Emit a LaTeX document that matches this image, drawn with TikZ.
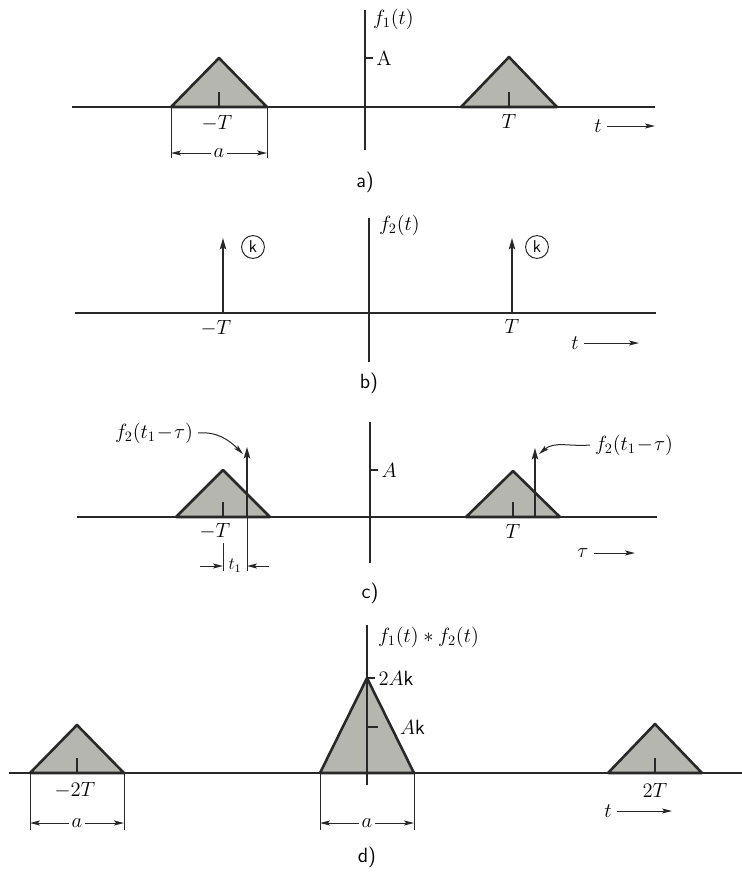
\documentclass[tikz,border=0pt]{standalone}
\usetikzlibrary{arrows.meta}
\begin{document}
\begin{tikzpicture}[x=0.7pt, y=0.7pt, font=\Large,
    achse/.style={draw=linie, line width=1pt},
    flaeche/.style={fill=grau, draw=linie, line width=1.8pt, line join=round},
    hilfslinie/.style={draw=linie, line width=0.6pt},
    puls/.style={draw=linie, line width=1.2pt,
      -{Stealth[length=8pt, width=4.5pt, inset=1.5pt]}},
    pfeil/.style={draw=linie, line width=0.7pt,
      -{Stealth[length=7pt, width=3.5pt, inset=1.5pt]}},
    kreis/.style={draw=linie, circle, line width=0.7pt, inner sep=1pt,
      minimum size=16pt, font=\large\sffamily},
    bildname/.style={font=\Large\sffamily},
  ]
  \definecolor{linie}{RGB}{40,40,40}
  \definecolor{grau}{RGB}{182,182,176}

  % Dreieckimpuls auf der Achse: \dreieck{Mitte}{halbe Breite}{Hoehe}
  \newcommand{\dreieck}[3]{%
    \draw[flaeche] (#1-#2,0) -- (#1,#3) -- (#1+#2,0) -- cycle;
    \draw[linie, line width=0.9pt] (#1,0) -- ++(0,15);}
  % Bemassung unter der Achse: \masz{x links}{x rechts}{y Pfeil}{y Ende}{Name}{Text}
  \newcommand{\masz}[6]{%
    \draw[hilfslinie] (#1,0) -- (#1,#4) (#2,0) -- (#2,#4);
    \coordinate (#5l) at (#1,#3);
    \coordinate (#5r) at (#2,#3);
    \node[inner sep=2pt] (#5) at ({(#1+#2)/2},#3) {#6};
    \draw[pfeil] (#5) -- (#5l);
    \draw[pfeil] (#5) -- (#5r);}

  \useasboundingbox (0,0) rectangle (742,-876);

  % ---------------- a) f1(t) -----------------------------------------
  \begin{scope}[shift={(365,-107)}]
    \dreieck{-146}{48}{49}
    \dreieck{144}{48}{50}
    \draw[achse] (-293,0) -- (290,0) (0,97) -- (0,-43);
    \draw[achse] (0,49) -- (8,49) node[right, inner sep=2pt] (hoeheA) {A};
    \node[anchor=west] (fEins) at (3,88) {$f_1(t)$};
    \node (mTa) at (-148,-16) {$-T$};
    \node (pTa) at (144,-14) {$T$};
    \masz{-194}{-98}{-46}{-51}{breiteA}{$a$}
    \node (ta) at (233,-19) {$t$};
    \coordinate (taEnde) at (290,-19);
    \draw[pfeil] (ta) -- (taEnde);
    \node[bildname] (bildA) at (0,-75) {a)};
  \end{scope}

  % ---------------- b) f2(t) -----------------------------------------
  \begin{scope}[shift={(369,-313)}]
    \draw[achse] (-294,0) -- (287,0) (0,95) -- (0,-49);
    \coordinate (fussL) at (-146,0);
    \coordinate (spitzeL) at (-146,75);
    \coordinate (fussR) at (143,0);
    \coordinate (spitzeR) at (143,75);
    \draw[puls] (fussL) -- (spitzeL);
    \draw[puls] (fussR) -- (spitzeR);
    \node[kreis] (kL) at (-116,66) {k};
    \node[kreis] (kR) at (168,66) {k};
    \node[anchor=west] (fZwei) at (5,88) {$f_2(t)$};
    \node (mTb) at (-153,-15) {$-T$};
    \node (pTb) at (143,-13) {$T$};
    \node (tb) at (206,-30) {$t$};
    \coordinate (tbEnde) at (270,-30);
    \draw[pfeil] (tb) -- (tbEnde);
    \node[bildname] (bildB) at (0,-70) {b)};
  \end{scope}

  % ---------------- c) f1(tau) und f2(t1-tau) ------------------------
  \begin{scope}[shift={(370,-517)}]
    \dreieck{-147}{47}{47}
    \dreieck{143}{47}{46}
    \draw[achse] (-293,0) -- (287,0) (0,95) -- (0,-46);
    \draw[achse] (0,47) -- (8,47) node[right, inner sep=2pt] (hoeheC) {$A$};
    % verschobene Impulse bei -T+t1 und T+t1
    \coordinate (fussCL) at (-123,0);
    \coordinate (spitzeCL) at (-123,70);
    \coordinate (fussCR) at (165,0);
    \coordinate (spitzeCR) at (165,69);
    \draw[puls] (fussCL) -- (spitzeCL);
    \draw[puls] (fussCR) -- (spitzeCR);
    \node (lblL) at (-216,84) {$f_2(t_1\!-\!\tau)$};
    \coordinate (zielL) at (-127,63);
    \draw[pfeil] (lblL.east) to[out=5, in=135] (zielL);
    \node[anchor=west] (lblR) at (220,72) {$f_2(t_1\!-\!\tau)$};
    \coordinate (zielR) at (169,63);
    \draw[pfeil] (lblR.west) to[out=185, in=40] (zielR);
    \node (mTc) at (-155,-14) {$-T$};
    \node (pTc) at (143,-14) {$T$};
    % Bemassung t1
    \draw[hilfslinie] (-147,-26) -- (-147,-54) (-123,0) -- (-123,-54);
    \node[inner sep=1pt, font=\large] (tEins) at (-135,-49) {$t_1$};
    \coordinate (tEinsL) at (-170,-49);
    \coordinate (tEinsLe) at (-147,-49);
    \coordinate (tEinsR) at (-101,-49);
    \coordinate (tEinsRe) at (-123,-49);
    \draw[pfeil] (tEinsL) -- (tEinsLe);
    \draw[pfeil] (tEinsR) -- (tEinsRe);
    \node (tauc) at (213,-36) {$\tau$};
    \coordinate (taucEnde) at (265,-36);
    \draw[pfeil] (tauc) -- (taucEnde);
    \node[bildname] (bildC) at (0,-76) {c)};
  \end{scope}

  % ---------------- d) f1(t)*f2(t) ----------------------------------
  \begin{scope}[shift={(367,-773)}]
    \dreieck{-290}{47}{48}
    \dreieck{288}{47}{49}
    \draw[flaeche] (-47,0) -- (0,95) -- (47,0) -- cycle;
    \draw[achse] (-358,0) -- (375,0) (0,148) -- (0,-12);
    \draw[achse] (0,95) -- (8,95) node[right, inner sep=2pt] (hoeheD) {$2A$\textsf{k}};
    \draw[achse] (0,46) -- (11,46);
    \node[anchor=west, inner sep=2pt] (halbD) at (30,46) {$A$\textsf{k}};
    \node[anchor=west] (fFaltung) at (6,136) {$f_1(t) * f_2(t)$};
    \node (mTd) at (-292,-17) {$-2T$};
    \node (pTd) at (288,-17) {$2T$};
    \masz{-337}{-243}{-50}{-57}{breiteDL}{$a$}
    \masz{-47}{47}{-50}{-57}{breiteDM}{$a$}
    \node (td) at (241,-38) {$t$};
    \coordinate (tdEnde) at (305,-38);
    \draw[pfeil] (td) -- (tdEnde);
    \node[bildname] (bildD) at (0,-84) {d)};
  \end{scope}
\end{tikzpicture}
\end{document}
